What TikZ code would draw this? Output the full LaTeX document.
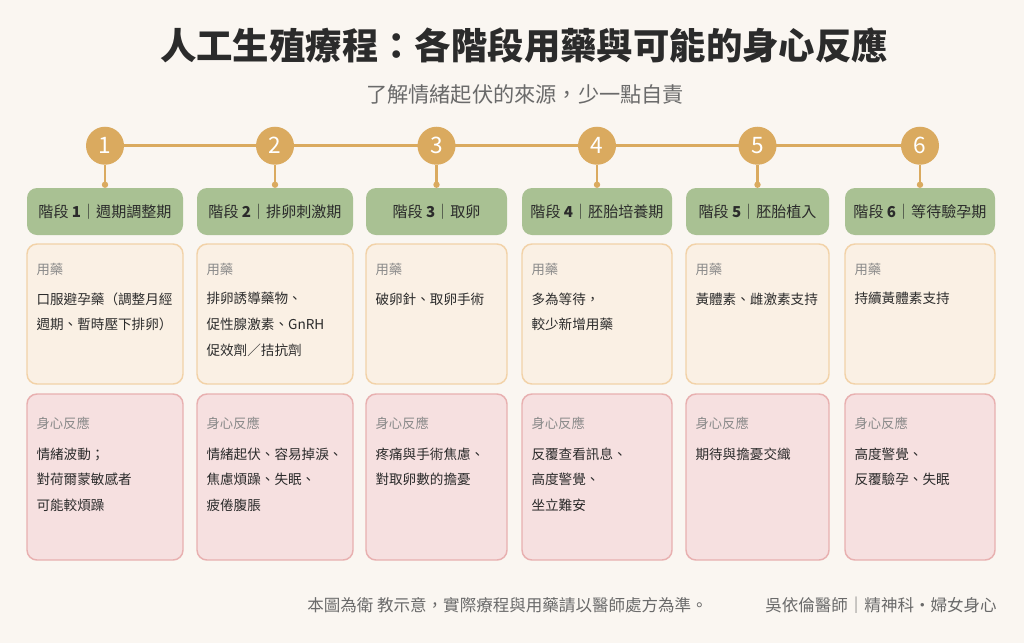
\documentclass[tikz,border=0pt]{standalone}
\usepackage{fontspec}
\setmainfont{Noto Sans CJK TC}
\usetikzlibrary{fit,calc}
\definecolor{bg}{HTML}{FAF6F1}
\definecolor{gold}{HTML}{DAAA5F}
\definecolor{stagegreen}{HTML}{A9C193}
\definecolor{medfill}{HTML}{FAF0E4}
\definecolor{medborder}{HTML}{F2D2A8}
\definecolor{reafill}{HTML}{F6E0E0}
\definecolor{reaborder}{HTML}{E8B0B0}
\definecolor{ink}{HTML}{2B2B2B}
\definecolor{labelgray}{HTML}{8A8A8A}
\definecolor{subgray}{HTML}{6A6A6A}
\begin{document}
\begin{tikzpicture}[x=0.75pt,y=-0.75pt,
  titletext/.style={font=\fontsize{27.3}{33}\selectfont\bfseries, text=ink, inner sep=0},
  subtext/.style={font=\fontsize{15.9}{19}\selectfont, text=subgray, inner sep=0},
  stepcircle/.style={circle, fill=gold, minimum size=28.5pt, inner sep=0, text=white, font=\fontsize{17}{20}\selectfont},
  stagebox/.style={fill=stagegreen, rounded corners=7.5pt, inner sep=0, draw=none},
  stagetext/.style={font=\fontsize{11.3}{13}\selectfont, text=ink, inner sep=0},
  medbox/.style={fill=medfill, draw=medborder, line width=1.1pt, rounded corners=7.5pt, inner sep=0},
  reabox/.style={fill=reafill, draw=reaborder, line width=1.1pt, rounded corners=7.5pt, inner sep=0},
  boxlabel/.style={font=\fontsize{10}{12}\selectfont, text=labelgray, inner sep=0, anchor=west},
  boxbody/.style={font=\fontsize{10.2}{19.2}\selectfont, text=ink, inner sep=0, anchor=north west, align=left},
  timeline/.style={draw=gold, line width=2.2pt},
  stem/.style={draw=gold, line width=1.8pt},
  footertext/.style={font=\fontsize{12.4}{14}\selectfont, text=subgray, inner sep=0}
]
\useasboundingbox[fill=bg] (0,0) rectangle (1024,643);

\node[titletext] (title) at (524,45) {人工生殖療程：各階段用藥與可能的身心反應};
\node[subtext] (subtitle) at (525,95) {了解情緒起伏的來源，少一點自責};

\foreach \i/\l/\r/\st in {
  1/27/183/{週期調整期},
  2/197/353/{排卵刺激期},
  3/366/507/{取卵},
  4/522/672/{胚胎培養期},
  5/686/829/{胚胎植入},
  6/845/995/{等待驗孕期}}{
  \node[stagebox, fit={(\l,188)(\r,235)}] (s\i) {};
  \node[stagetext] (st\i) at (s\i.center) {階段 \textbf{\i}｜\st};
  \node[medbox, fit={(\l,244)(\r,384)}] (m\i) {};
  \node[reabox, fit={(\l,394)(\r,560)}] (r\i) {};
  \node[boxlabel] (ml\i) at ($(m\i.north west)+(10,26)$) {用藥};
  \node[boxlabel] (rl\i) at ($(r\i.north west)+(10,30)$) {身心反應};
  \coordinate (cc\i) at ($(s\i.north)+(0,-42)$);
}

\draw[timeline] (cc1) -- (cc6);
\foreach \i in {1,...,6}{
  \node[stepcircle] (c\i) at (cc\i) {\i};
  \coordinate (d\i) at ($(s\i.north)+(0,-3)$);
  \draw[stem] (c\i.south) -- (d\i);
  \fill[gold] (d\i) circle[radius=3.2];
}

\node[boxbody] (mb1) at ($(m1.north west)+(10,49)$) {口服避孕藥（調整月經\\週期、暫時壓下排卵）};
\node[boxbody] (mb2) at ($(m2.north west)+(10,49)$) {排卵誘導藥物、\\促性腺激素、GnRH\\促效劑／拮抗劑};
\node[boxbody] (mb3) at ($(m3.north west)+(10,49)$) {破卵針、取卵手術};
\node[boxbody] (mb4) at ($(m4.north west)+(10,49)$) {多為等待，\\較少新增用藥};
\node[boxbody] (mb5) at ($(m5.north west)+(10,49)$) {黃體素、雌激素支持};
\node[boxbody] (mb6) at ($(m6.north west)+(10,49)$) {持續黃體素支持};

\node[boxbody] (rb1) at ($(r1.north west)+(10,54)$) {情緒波動；\\對荷爾蒙敏感者\\可能較煩躁};
\node[boxbody] (rb2) at ($(r2.north west)+(10,54)$) {情緒起伏、容易掉淚、\\焦慮煩躁、失眠、\\疲倦腹脹};
\node[boxbody] (rb3) at ($(r3.north west)+(10,54)$) {疼痛與手術焦慮、\\對取卵數的擔憂};
\node[boxbody] (rb4) at ($(r4.north west)+(10,54)$) {反覆查看訊息、\\高度警覺、\\坐立難安};
\node[boxbody] (rb5) at ($(r5.north west)+(10,54)$) {期待與擔憂交織};
\node[boxbody] (rb6) at ($(r6.north west)+(10,54)$) {高度警覺、\\反覆驗孕、失眠};

\node[footertext, anchor=west] (foot1) at (307,605) {本圖為衛 教示意，實際療程與用藥請以醫師處方為準。};
\node[footertext, anchor=east] (foot2) at (997,605) {吳依倫醫師｜精神科・婦女身心};
\end{tikzpicture}
\end{document}
